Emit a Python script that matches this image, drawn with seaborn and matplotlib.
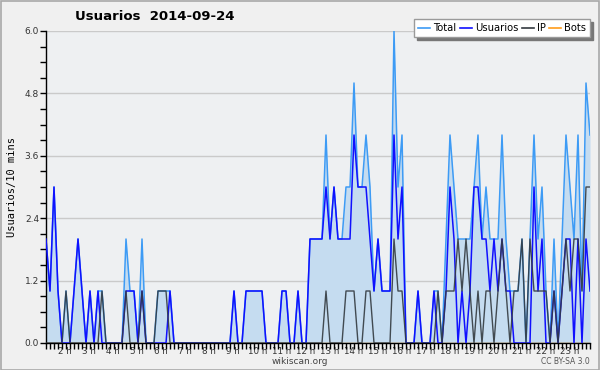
"""
plot.py
Usuarios por 10 minutos, wikiscan 2014-09-24
"""

import matplotlib
matplotlib.use("Agg")
import matplotlib.pyplot as plt
from matplotlib.lines import Line2D
from matplotlib.patches import Rectangle
import seaborn as sns
import numpy as np
import pandas as pd

# values, one point per 10 minutes
usuarios = [2, 1, 3, 1, 0, 0, 0, 1, 2, 1,
            0, 1, 0, 1, 0, 0, 0, 0, 0, 0,
            1, 1, 1, 0, 1, 0, 0, 0, 0, 0,
            0, 1, 0, 0, 0, 0, 0, 0, 0, 0,
            0, 0, 0, 0, 0, 0, 0, 1, 0, 0,
            1, 1, 1, 1, 1, 0, 0, 0, 0, 1,
            1, 0, 0, 1, 0, 0, 2, 2, 2, 2,
            3, 2, 3, 2, 2, 2, 2, 4, 3, 3,
            3, 2, 1, 2, 1, 1, 1, 4, 2, 3,
            0, 0, 0, 1, 0, 0, 0, 1, 0, 0,
            1, 3, 2, 0, 1, 0, 1, 3, 3, 2,
            2, 1, 2, 1, 2, 1, 1, 0, 0, 0,
            0, 0, 3, 1, 2, 0, 0, 1, 0, 1,
            2, 2, 0, 2, 0, 2, 1]

ip = [0, 0, 0, 0, 0, 1, 0, 0, 0, 0,
      0, 0, 0, 0, 1, 0, 0, 0, 0, 0,
      1, 0, 0, 0, 1, 0, 0, 0, 1, 1,
      1, 0, 0, 0, 0, 0, 0, 0, 0, 0,
      0, 0, 0, 0, 0, 0, 0, 0, 0, 0,
      0, 0, 0, 0, 0, 0, 0, 0, 0, 0,
      0, 0, 0, 0, 0, 0, 0, 0, 0, 0,
      1, 0, 0, 0, 0, 1, 1, 1, 0, 0,
      1, 1, 0, 0, 0, 0, 0, 2, 1, 1,
      0, 0, 0, 0, 0, 0, 0, 0, 1, 0,
      1, 1, 1, 2, 1, 2, 1, 0, 1, 0,
      1, 1, 0, 1, 2, 1, 0, 1, 1, 2,
      0, 2, 1, 1, 1, 1, 0, 1, 0, 1,
      2, 1, 2, 2, 1, 3, 3]

total = [2, 1, 3, 1, 0, 1, 0, 1, 2, 1,
         0, 1, 0, 1, 1, 0, 0, 0, 0, 0,
         2, 1, 1, 0, 2, 0, 0, 0, 1, 1,
         1, 1, 0, 0, 0, 0, 0, 0, 0, 0,
         0, 0, 0, 0, 0, 0, 0, 1, 0, 0,
         1, 1, 1, 1, 1, 0, 0, 0, 0, 1,
         1, 0, 0, 1, 0, 0, 2, 2, 2, 2,
         4, 2, 3, 2, 2, 3, 3, 5, 3, 3,
         4, 3, 1, 2, 1, 1, 1, 6, 3, 4,
         0, 0, 0, 1, 0, 0, 0, 1, 1, 0,
         2, 4, 3, 2, 2, 2, 2, 3, 4, 2,
         3, 2, 2, 2, 4, 2, 1, 1, 1, 2,
         0, 2, 4, 2, 3, 1, 0, 2, 0, 2,
         4, 3, 2, 4, 1, 5, 4]

bots = [0] * len(total)

hours = list(range(2, 24))
hour_labels = [f"{h} h" for h in hours]
y_ticks = [0.0, 1.2, 2.4, 3.6, 4.8, 6.0]

df = pd.DataFrame({
    "slot": np.arange(len(total)),
    "Total": total,
    "Usuarios": usuarios,
    "IP": ip,
    "Bots": bots,
})

colors = {"Total": "#3d9bf5", "Usuarios": "#1010ff", "IP": "#333a40", "Bots": "#ff9c1a"}

fig = plt.figure(figsize=(6, 3.7), dpi=100, facecolor="#f0f0f0")
fig.patches.append(Rectangle((0.001, 0.001), 0.997, 0.996, transform=fig.transFigure,
                             fill=False, edgecolor="#a8a8a8", linewidth=1.2))
ax = fig.add_axes([46 / 600, 27 / 370, 544 / 600, 312 / 370])
ax.set_facecolor("#eef0f2")

# filled area under total
ax.fill_between(df["slot"], df["Total"], color="#c5dcf0", linewidth=0, zorder=1)
sns.lineplot(data=df, x="slot", y="Bots", ax=ax, color=colors["Bots"], linewidth=1, zorder=1.5)
sns.lineplot(data=df, x="slot", y="Total", ax=ax, color=colors["Total"], linewidth=1.1, zorder=2)
sns.lineplot(data=df, x="slot", y="Usuarios", ax=ax, color=colors["Usuarios"], linewidth=1.1, zorder=3)
sns.lineplot(data=df, x="slot", y="IP", ax=ax, color=colors["IP"], linewidth=1, alpha=0.9, zorder=4)

ax.set_xlim(0, len(total) - 1)
ax.set_ylim(0, 6)

# axes look
for s in ["top", "right"]:
    ax.spines[s].set_visible(False)
ax.spines["left"].set_linewidth(1)
ax.spines["bottom"].set_linewidth(1)
ax.grid(axis="y", color="#cacaca", linewidth=1)
ax.set_axisbelow(True)

ax.set_yticks(y_ticks)
ax.set_yticklabels([f"{v:.1f}" for v in y_ticks], fontsize=6.5, color="#333333")
ax.set_yticks(np.arange(0, 6.01, 0.3), minor=True)
ax.tick_params(axis="y", which="both", length=4, width=1, direction="out", pad=1)

ax.set_xticks([4.8 + 6 * (h - 2) for h in hours])
ax.set_xticklabels(hour_labels, fontsize=6.3, color="#333333")
ax.set_xticks(np.arange(0, len(total)), minor=True)
ax.tick_params(axis="x", which="major", length=0, pad=3)
ax.tick_params(axis="x", which="minor", length=4, width=1, direction="out")

ax.set_xlabel("")
ax.set_ylabel("Usuarios/10 mins", fontsize=7.5, family="DejaVu Sans Mono")
ax.yaxis.set_label_coords(-29 / 544, 0.5)

fig.text(75 / 600, 1 - 17 / 370, "Usuarios  2014-09-24", fontsize=9.5,
         fontweight="bold", va="center", ha="left")

# legend top right
handles = [Line2D([], [], color=colors[k], linewidth=1.2) for k in ["Total", "Usuarios", "IP", "Bots"]]
leg = fig.legend(handles, ["Total", "Usuarios", "IP", "Bots"], loc="upper right",
                 bbox_to_anchor=(595 / 600, 1 - 14 / 370), ncol=4, fontsize=7.2,
                 handlelength=1.2, handletextpad=0.3, columnspacing=0.35,
                 borderpad=0.4, fancybox=False, framealpha=1,
                 shadow={"color": "#777777", "alpha": 1})
leg.get_frame().set_edgecolor("#9a9a9a")

fig.text(0.5, 1 - 361 / 370, "wikiscan.org", fontsize=6.5, ha="center", va="center", color="#444444")
fig.text(590 / 600, 1 - 362 / 370, "CC BY-SA 3.0", fontsize=5.5, ha="right", va="center", color="#555555")

fig.savefig("out.png", dpi=100, facecolor=fig.get_facecolor())
